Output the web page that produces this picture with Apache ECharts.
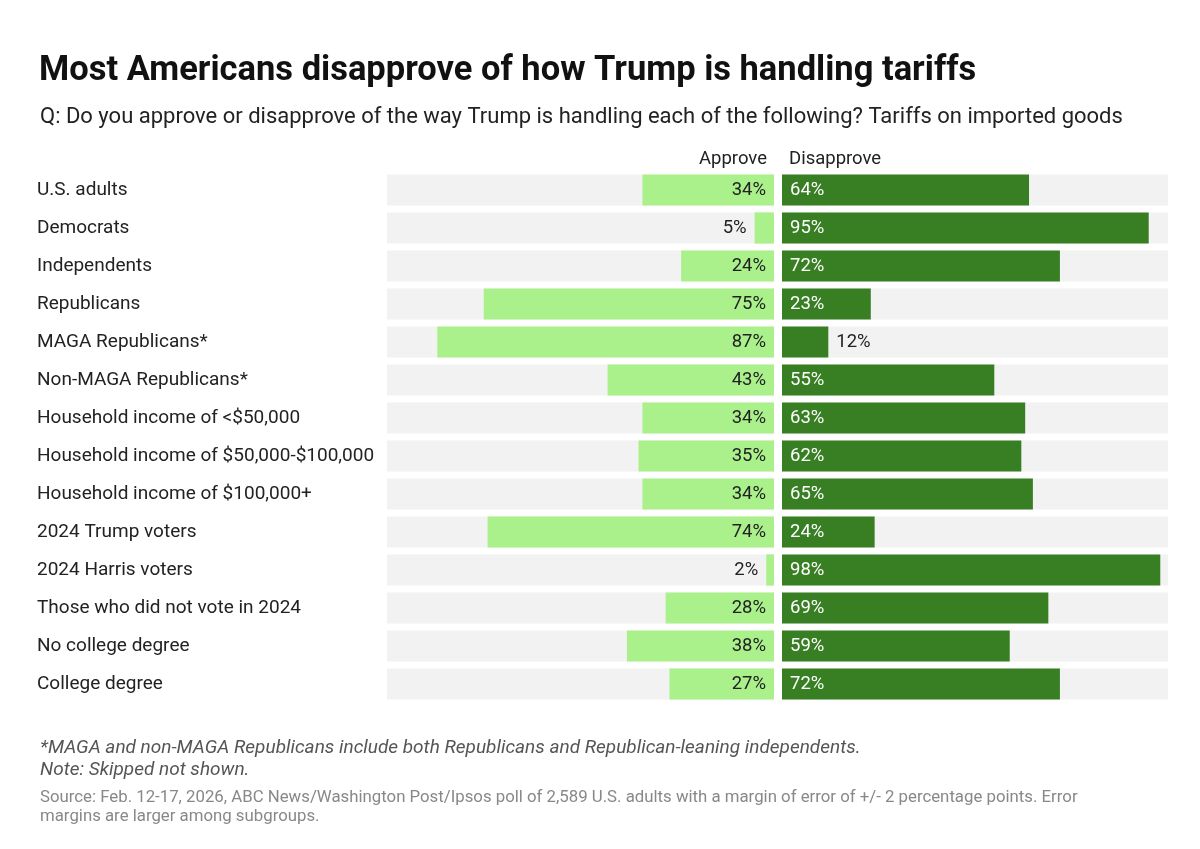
<!DOCTYPE html>
<html>
<head>
<meta charset="utf-8">
<script src="https://cdn.jsdelivr.net/npm/echarts@6/dist/echarts.min.js"></script>
<style>
  html, body { margin: 0; padding: 0; background: #fff; }
  #chart { width: 1200px; height: 849px; }
</style>
</head>
<body>
<div id="chart"></div>
<script>
var groups = [
  'U.S. adults', 'Democrats', 'Independents', 'Republicans', 'MAGA Republicans*',
  'Non-MAGA Republicans*', 'Household income of <$50,000', 'Household income of $50,000-$100,000',
  'Household income of $100,000+', '2024 Trump voters', '2024 Harris voters',
  'Those who did not vote in 2024', 'No college degree', 'College degree'
]
var approve = [34, 5, 24, 75, 87, 43, 34, 35, 34, 74, 2, 28, 38, 27]
var disapprove = [64, 95, 72, 23, 12, 55, 63, 62, 65, 24, 98, 69, 59, 72]

var FONT = 'Roboto, "Liberation Sans", sans-serif'
var LIGHT = '#aaf08b'
var DARK = '#387f24'

// short bars get their label outside the bar
function withLabels(values, side) {
  return values.map(function (v) {
    var small = v < 15
    var pos
    if (side === 'left') pos = small ? 'left' : 'insideRight'
    else pos = small ? 'right' : 'insideLeft'
    var color = side === 'left' ? '#222' : (small ? '#222' : '#fff')
    return {
      value: v,
      label: { position: pos, color: color }
    }
  })
}

var chart = echarts.init(document.getElementById('chart'))

chart.setOption({
  backgroundColor: '#fff',
  animation: false,
  title: [
    {
      text: 'Most Americans disapprove of how Trump is handling tariffs',
      left: 34, top: 49,
      textStyle: { fontFamily: FONT, fontWeight: 'bold', fontSize: 34.5, color: '#111' }
    },
    {
      text: 'Q: Do you approve or disapprove of the way Trump is handling each of the following? Tariffs on imported goods',
      left: 35, top: 101,
      textStyle: { fontFamily: FONT, fontWeight: 'normal', fontSize: 22, color: '#222' }
    },
    {
      text: 'Approve',
      right: 428, top: 145,
      textStyle: { fontFamily: FONT, fontWeight: 'normal', fontSize: 18.5, color: '#222' }
    },
    {
      text: 'Disapprove',
      left: 784, top: 145,
      textStyle: { fontFamily: FONT, fontWeight: 'normal', fontSize: 18.5, color: '#222' }
    },
    {
      text: '*MAGA and non-MAGA Republicans include both Republicans and Republican-leaning independents.\nNote: Skipped not shown.',
      left: 35, top: 732,
      textStyle: { fontFamily: FONT, fontStyle: 'italic', fontWeight: 'normal', fontSize: 19, color: '#555', lineHeight: 22 }
    },
    {
      text: 'Source: Feb. 12-17, 2026, ABC News/Washington Post/Ipsos poll of 2,589 U.S. adults with a margin of error of +/- 2 percentage points. Error\nmargins are larger among subgroups.',
      left: 35, top: 783,
      textStyle: { fontFamily: FONT, fontWeight: 'normal', fontSize: 16.8, color: '#888', lineHeight: 19 }
    }
  ],
  grid: [
    { left: 387, width: 387, top: 171, height: 532 },
    { left: 782, width: 386, top: 171, height: 532 }
  ],
  xAxis: [
    { gridIndex: 0, type: 'value', min: 0, max: 100, inverse: true, show: false },
    { gridIndex: 1, type: 'value', min: 0, max: 100, show: false }
  ],
  yAxis: [
    {
      gridIndex: 0, type: 'category', data: groups, inverse: true,
      axisLine: { show: false }, axisTick: { show: false },
      axisLabel: {
        align: 'left', margin: 350,
        fontFamily: FONT, fontSize: 19, color: '#222'
      }
    },
    {
      gridIndex: 1, type: 'category', data: groups, inverse: true,
      axisLine: { show: false }, axisTick: { show: false }, axisLabel: { show: false }
    }
  ],
  series: [
    {
      name: 'Approve', type: 'bar', xAxisIndex: 0, yAxisIndex: 0,
      data: withLabels(approve, 'left'),
      barCategoryGap: '18%',
      itemStyle: { color: LIGHT },
      showBackground: true,
      backgroundStyle: { color: '#f2f2f2' },
      label: {
        show: true, distance: 8, formatter: '{c}%',
        fontFamily: FONT, fontSize: 18.5
      }
    },
    {
      name: 'Disapprove', type: 'bar', xAxisIndex: 1, yAxisIndex: 1,
      data: withLabels(disapprove, 'right'),
      barCategoryGap: '18%',
      itemStyle: { color: DARK },
      showBackground: true,
      backgroundStyle: { color: '#f2f2f2' },
      label: {
        show: true, distance: 8, formatter: '{c}%',
        fontFamily: FONT, fontSize: 18.5
      }
    }
  ]
})
</script>
</body>
</html>
